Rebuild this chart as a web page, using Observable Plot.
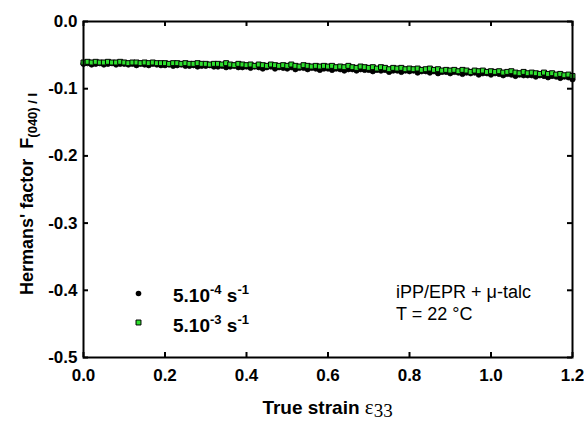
<!DOCTYPE html>
<html>
<head>
<meta charset="utf-8">
<script src="https://cdn.jsdelivr.net/npm/d3@7"></script>
<script src="https://cdn.jsdelivr.net/npm/@observablehq/plot@0.6"></script>
<style>
  html, body { margin: 0; padding: 0; background: #fff; }
  #chart { width: 584px; height: 423px; }
</style>
</head>
<body>
<div id="chart"></div>
<script>
const strain = [
  0.00,0.01,0.02,0.03,0.04,0.05,0.06,0.07,0.08,0.09,
  0.10,0.11,0.12,0.13,0.14,0.15,0.16,0.17,0.18,0.19,
  0.20,0.21,0.22,0.23,0.24,0.25,0.26,0.27,0.28,0.29,
  0.30,0.31,0.32,0.33,0.34,0.35,0.36,0.37,0.38,0.39,
  0.40,0.41,0.42,0.43,0.44,0.45,0.46,0.47,0.48,0.49,
  0.50,0.51,0.52,0.53,0.54,0.55,0.56,0.57,0.58,0.59,
  0.60,0.61,0.62,0.63,0.64,0.65,0.66,0.67,0.68,0.69,
  0.70,0.71,0.72,0.73,0.74,0.75,0.76,0.77,0.78,0.79,
  0.80,0.81,0.82,0.83,0.84,0.85,0.86,0.87,0.88,0.89,
  0.90,0.91,0.92,0.93,0.94,0.95,0.96,0.97,0.98,0.99,
  1.00,1.01,1.02,1.03,1.04,1.05,1.06,1.07,1.08,1.09,
  1.10,1.11,1.12,1.13,1.14,1.15,1.16,1.17,1.18,1.19,
  1.20
];

// 5.10^-4 s^-1 (black circles)
const slowRate = [
  -0.063,-0.062,-0.064,-0.063,-0.062,-0.064,-0.063,-0.062,-0.064,-0.063,
  -0.063,-0.064,-0.063,-0.065,-0.063,-0.064,-0.065,-0.063,-0.064,-0.065,
  -0.065,-0.064,-0.066,-0.065,-0.064,-0.066,-0.066,-0.065,-0.067,-0.066,
  -0.066,-0.065,-0.067,-0.067,-0.066,-0.068,-0.067,-0.066,-0.068,-0.068,
  -0.067,-0.069,-0.067,-0.068,-0.070,-0.068,-0.067,-0.070,-0.068,-0.069,
  -0.070,-0.068,-0.071,-0.069,-0.069,-0.071,-0.069,-0.070,-0.072,-0.070,
  -0.070,-0.072,-0.070,-0.071,-0.073,-0.071,-0.071,-0.073,-0.071,-0.072,
  -0.072,-0.074,-0.072,-0.073,-0.072,-0.075,-0.073,-0.073,-0.075,-0.073,
  -0.074,-0.073,-0.076,-0.074,-0.074,-0.076,-0.074,-0.077,-0.075,-0.075,
  -0.077,-0.075,-0.076,-0.078,-0.076,-0.077,-0.076,-0.079,-0.077,-0.077,
  -0.079,-0.077,-0.078,-0.080,-0.078,-0.079,-0.081,-0.079,-0.080,-0.080,
  -0.080,-0.082,-0.080,-0.081,-0.083,-0.081,-0.082,-0.084,-0.082,-0.083,
  -0.086
];

// 5.10^-3 s^-1 (green squares)
const fastRate = [
  -0.061,-0.060,-0.061,-0.060,-0.061,-0.061,-0.060,-0.061,-0.061,-0.060,
  -0.061,-0.062,-0.061,-0.061,-0.062,-0.061,-0.062,-0.061,-0.062,-0.062,
  -0.062,-0.063,-0.062,-0.062,-0.063,-0.062,-0.063,-0.063,-0.062,-0.063,
  -0.063,-0.064,-0.063,-0.063,-0.064,-0.062,-0.064,-0.065,-0.063,-0.064,
  -0.065,-0.064,-0.066,-0.064,-0.065,-0.066,-0.064,-0.065,-0.066,-0.065,
  -0.066,-0.064,-0.066,-0.067,-0.065,-0.066,-0.067,-0.066,-0.067,-0.066,
  -0.067,-0.066,-0.068,-0.067,-0.068,-0.066,-0.068,-0.069,-0.067,-0.068,
  -0.069,-0.068,-0.070,-0.068,-0.069,-0.071,-0.069,-0.070,-0.069,-0.071,
  -0.070,-0.071,-0.070,-0.072,-0.071,-0.070,-0.072,-0.071,-0.073,-0.072,
  -0.073,-0.072,-0.074,-0.072,-0.073,-0.075,-0.073,-0.074,-0.073,-0.075,
  -0.074,-0.075,-0.074,-0.076,-0.075,-0.074,-0.076,-0.077,-0.075,-0.077,
  -0.076,-0.077,-0.078,-0.076,-0.078,-0.077,-0.079,-0.078,-0.080,-0.079,
  -0.081
];

const xTicks = [0.0, 0.2, 0.4, 0.6, 0.8, 1.0, 1.2];
const yTicks = [0.0, -0.1, -0.2, -0.3, -0.4, -0.5];
const seriesNames = ["5.10-4 s-1", "5.10-3 s-1"];
const annotation = ["iPP/EPR + μ-talc", "T = 22 °C"];

const W = 584, H = 423;
const mL = 83, mR = 12, mT = 21, mB = 66;
const innerW = W - mL - mR, innerH = H - mT - mB;
const tickLen = 5;
const green = "#2ee02e";
const sans = "'Liberation Sans', Arial, sans-serif";

const slowData = strain.map((s, i) => ({s, v: slowRate[i]}));
const fastData = strain.map((s, i) => ({s, v: fastRate[i]}));
const fmt = d => d.toFixed(1);

const plot = Plot.plot({
  width: W, height: H,
  marginLeft: mL, marginRight: mR, marginTop: mT, marginBottom: mB,
  style: {fontFamily: sans, background: "white", color: "black", overflow: "visible"},
  x: {domain: [0, 1.2], label: null},
  y: {domain: [-0.5, 0], label: null},
  marks: [
    Plot.axisX(xTicks, {anchor: "bottom", tickSize: 0, tickPadding: 11, tickFormat: fmt, fontSize: 17, fontWeight: "bold", label: null}),
    Plot.axisY(yTicks, {anchor: "left", tickSize: 0, tickPadding: 6, tickFormat: fmt, fontSize: 17, fontWeight: "bold", label: null}),
    Plot.tickX(xTicks, {x: d => d, insetTop: innerH - tickLen, stroke: "black", strokeWidth: 2}),
    Plot.tickX(xTicks, {x: d => d, insetBottom: innerH - tickLen, stroke: "black", strokeWidth: 2}),
    Plot.tickY(yTicks, {y: d => d, insetRight: innerW - tickLen, stroke: "black", strokeWidth: 2}),
    Plot.tickY(yTicks, {y: d => d, insetLeft: innerW - tickLen, stroke: "black", strokeWidth: 2}),
    Plot.dot(slowData, {x: "s", y: "v", r: 2.7, fill: "black", stroke: "black", strokeWidth: 0.8}),
    Plot.dot(fastData, {x: "s", y: "v", symbol: "square", r: 2.8, fill: green, stroke: "black", strokeWidth: 1}),
    Plot.frame({stroke: "black", strokeWidth: 2}),
    // legend markers
    Plot.dot([seriesNames[0]], {frameAnchor: "top-left", dx: 55, dy: 272, r: 2.8, fill: "black"}),
    Plot.dot([seriesNames[1]], {frameAnchor: "top-left", dx: 55, dy: 301, symbol: "square", r: 2.8, fill: green, stroke: "black", strokeWidth: 1})
  ]
});

document.getElementById("chart").appendChild(plot);
const svg = d3.select(plot);

// legend texts with superscripts
function legendText(x, y, base, e1, e2) {
  const t = svg.append("text").attr("x", x).attr("y", y)
    .attr("text-anchor", "start")
    .attr("font-family", sans)
    .attr("font-weight", "bold").attr("font-size", 19).attr("fill", "black");
  t.append("tspan").text(base);
  t.append("tspan").attr("dy", -8).attr("font-size", 13).text(e1);
  t.append("tspan").attr("dy", 8).text(" s");
  t.append("tspan").attr("dy", -8).attr("font-size", 13).text(e2);
}
legendText(173, 302, "5.10", "-4", "-1");
legendText(173, 332, "5.10", "-3", "-1");

// annotation
annotation.forEach((line, i) => {
  svg.append("text").attr("x", 396).attr("y", 298 + i * 22)
    .attr("text-anchor", "start")
    .attr("font-family", sans)
    .attr("font-size", 18).attr("fill", "black").text(line);
});

// x axis title
const xt = svg.append("text").attr("x", (mL + W - mR) / 2).attr("y", 414)
  .attr("text-anchor", "middle")
  .attr("font-family", sans)
  .attr("font-size", 19).attr("font-weight", "bold").attr("fill", "black");
xt.append("tspan").text("True strain ");
xt.append("tspan").attr("font-weight", "normal").attr("font-family", "'Liberation Serif', serif").attr("font-size", 21).text("ε");
xt.append("tspan").attr("font-weight", "normal").attr("font-family", "'Liberation Serif', serif").attr("font-size", 19).attr("dy", 3).text("33");

// y axis title
const yt = svg.append("text").attr("transform", "translate(33,295) rotate(-90)")
  .attr("text-anchor", "start")
  .attr("font-family", sans)
  .attr("font-size", 18).attr("font-weight", "bold").attr("fill", "black")
  .style("white-space", "pre");
yt.append("tspan").text("Hermans' factor  F");
yt.append("tspan").attr("dy", 4).attr("font-size", 13).text("(040) / I");
</script>
</body>
</html>
